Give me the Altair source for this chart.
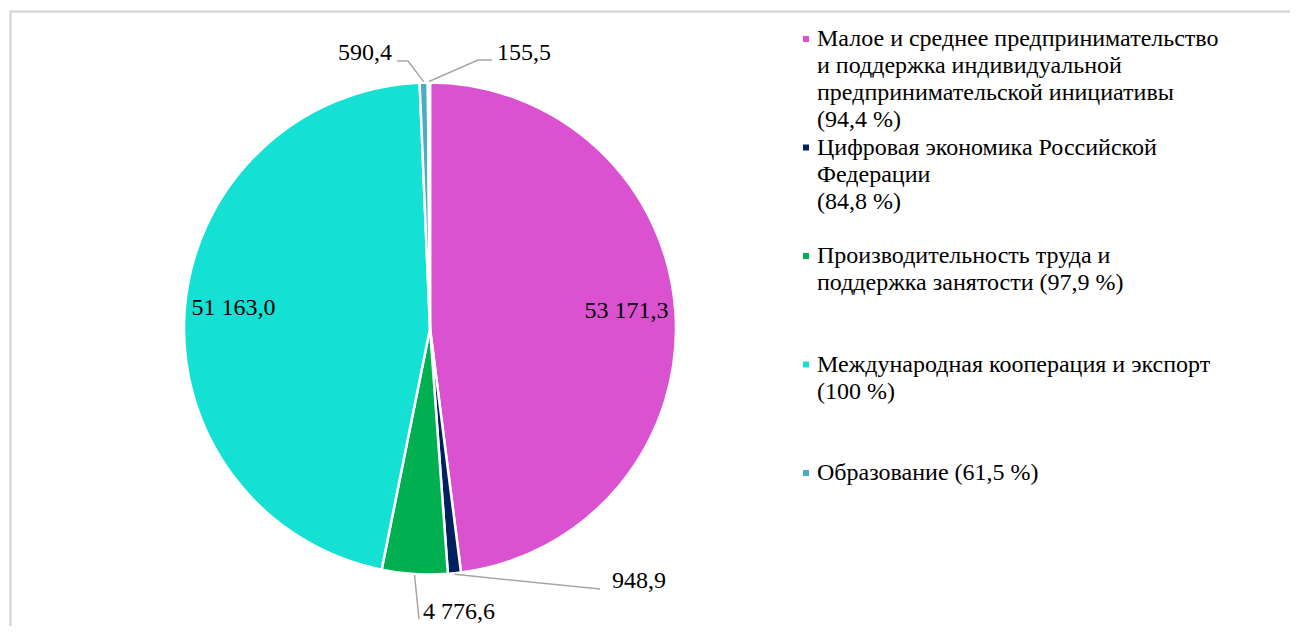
import altair as alt
import pandas as pd
import numpy as np

# ---- data ----
slice_names = [
    "Малое и среднее предпринимательство",
    "Цифровая экономика Российской Федерации",
    "Производительность труда и поддержка занятости",
    "Международная кооперация и экспорт",
    "Образование",
    "Прочее",
]
slice_values = [53171.3, 948.9, 4776.6, 51163.0, 590.4, 155.5]
slice_colors = ["#DB52D0", "#002060", "#00B050", "#14E0D4", "#4BACC6", "#FFFFFF"]

legend_labels = [
    "Малое и среднее предпринимательство\nи поддержка индивидуальной\nпредпринимательской инициативы\n(94,4 %)",
    "Цифровая экономика Российской\nФедерации\n(84,8 %)",
    "Производительность труда и\nподдержка занятости (97,9 %)",
    "Международная кооперация и экспорт\n(100 %)",
    "Образование (61,5 %)",
]

# ---- layout ----
W, H = 1280, 615
CX, CY, R = 420, 317.5, 246
FONT = "'Liberation Serif', 'Times New Roman', serif"
FS = 24

def fmt(v):
    return f"{v:,.1f}".replace(",", " ").replace(".", ",")

df = pd.DataFrame({
    "idx": range(len(slice_names)),
    "name": slice_names,
    "value": slice_values,
})
total = df["value"].sum()
cum = df["value"].cumsum() - df["value"]
mid = (cum + df["value"] / 2) / total * 2 * np.pi
df["mid"] = mid
df["label"] = [fmt(v) for v in slice_values]

def pt(a, r):
    return CX + r * np.sin(a), CY - r * np.cos(a)

# inside labels (large slices)
inside_idx = [0, 3]
ins_rows = []
for i in inside_idx:
    x, y = pt(df.loc[i, "mid"], 197)
    ins_rows.append({"x": x, "y": y - 5, "label": df.loc[i, "label"]})
ins = pd.DataFrame(ins_rows)

# outside labels with leader lines: (slice idx, elbow, end, text pos, align)
outside = [
    (1, None, (590, 578), (602, 570), "left"),
    (2, None, (409, 608), (413, 600.5), "left"),
    (4, (398, 50), (387, 50), (382, 42), "right"),
    (5, (468, 49), (482, 49), (487, 42), "left"),
]
line_rows, out_rows = [], []
for i, elbow, end, tpos, al in outside:
    ax, ay = pt(df.loc[i, "mid"], R + 1)
    pts = [(ax, ay)] + ([elbow] if elbow else []) + [end]
    for k, (px, py) in enumerate(pts):
        line_rows.append({"g": i, "o": k, "x": px, "y": py})
    out_rows.append({"x": tpos[0], "y": tpos[1], "label": df.loc[i, "label"], "align": al})
lines = pd.DataFrame(line_rows)
outl = pd.DataFrame(out_rows)

pix_x = alt.Scale(domain=[0, W], range=[0, W])
pix_y = alt.Scale(domain=[0, H], range=[0, H])

color = alt.Color("name:N", scale=alt.Scale(domain=slice_names, range=slice_colors), legend=None)

pie = alt.Chart(df).mark_arc(radius=R, stroke="white", strokeWidth=2.5).encode(
    theta=alt.Theta("value:Q", stack=True),
    order=alt.Order("idx:Q"),
    color=color,
    x=alt.value(CX),
    y=alt.value(CY),
)

ins_text = alt.Chart(ins).mark_text(font=FONT, fontSize=FS, color="black", baseline="middle").encode(
    x=alt.X("x:Q", scale=pix_x, axis=None),
    y=alt.Y("y:Q", scale=pix_y, axis=None),
    text="label:N",
)

leader = alt.Chart(lines).mark_line(color="#A6A6A6", strokeWidth=1.5).encode(
    x=alt.X("x:Q", scale=pix_x, axis=None),
    y=alt.Y("y:Q", scale=pix_y, axis=None),
    detail="g:N",
    order="o:Q",
)

out_left = alt.Chart(outl[outl["align"] == "left"]).mark_text(
    font=FONT, fontSize=FS, color="black", baseline="middle", align="left").encode(
    x=alt.X("x:Q", scale=pix_x, axis=None),
    y=alt.Y("y:Q", scale=pix_y, axis=None),
    text="label:N",
)
out_right = alt.Chart(outl[outl["align"] == "right"]).mark_text(
    font=FONT, fontSize=FS, color="black", baseline="middle", align="right").encode(
    x=alt.X("x:Q", scale=pix_x, axis=None),
    y=alt.Y("y:Q", scale=pix_y, axis=None),
    text="label:N",
)

leg = pd.DataFrame({
    "k": range(len(legend_labels)),
    "name": slice_names[:len(legend_labels)],
    "text": legend_labels,
})
leg_y = alt.Scale(domain=[0, 4], range=[35, 469])
leg_marks = alt.Chart(leg).mark_square(size=36, opacity=1, yOffset=-7).encode(
    x=alt.value(796),
    y=alt.Y("k:Q", scale=leg_y, axis=None),
    color=color,
)
leg_text = alt.Chart(leg).mark_text(
    font=FONT, fontSize=FS, color="black", align="left", baseline="alphabetic",
    lineBreak="\n", lineHeight=27).encode(
    x=alt.value(807),
    y=alt.Y("k:Q", scale=leg_y, axis=None),
    text="text:N",
)

frame_top = alt.Chart(df).mark_rule(color="#D9D9D9", strokeWidth=1.5).encode(
    x=alt.value(0), x2=alt.value(W + 2), y=alt.value(0.5))
frame_left = alt.Chart(df).mark_rule(color="#D9D9D9", strokeWidth=1.5).encode(
    x=alt.value(0.5), y=alt.value(0), y2=alt.value(H))

chart = alt.layer(
    frame_top, frame_left, pie, leader, ins_text, out_left, out_right, leg_marks, leg_text
).resolve_scale(x="shared", y="independent").properties(
    width=W, height=H,
    autosize=alt.AutoSizeParams(type="none"),
    padding={"left": 2, "top": 3, "right": 0, "bottom": 0},
).configure_view(stroke=None)

chart.save("out.html", embed_options={"renderer": "svg", "actions": False})
